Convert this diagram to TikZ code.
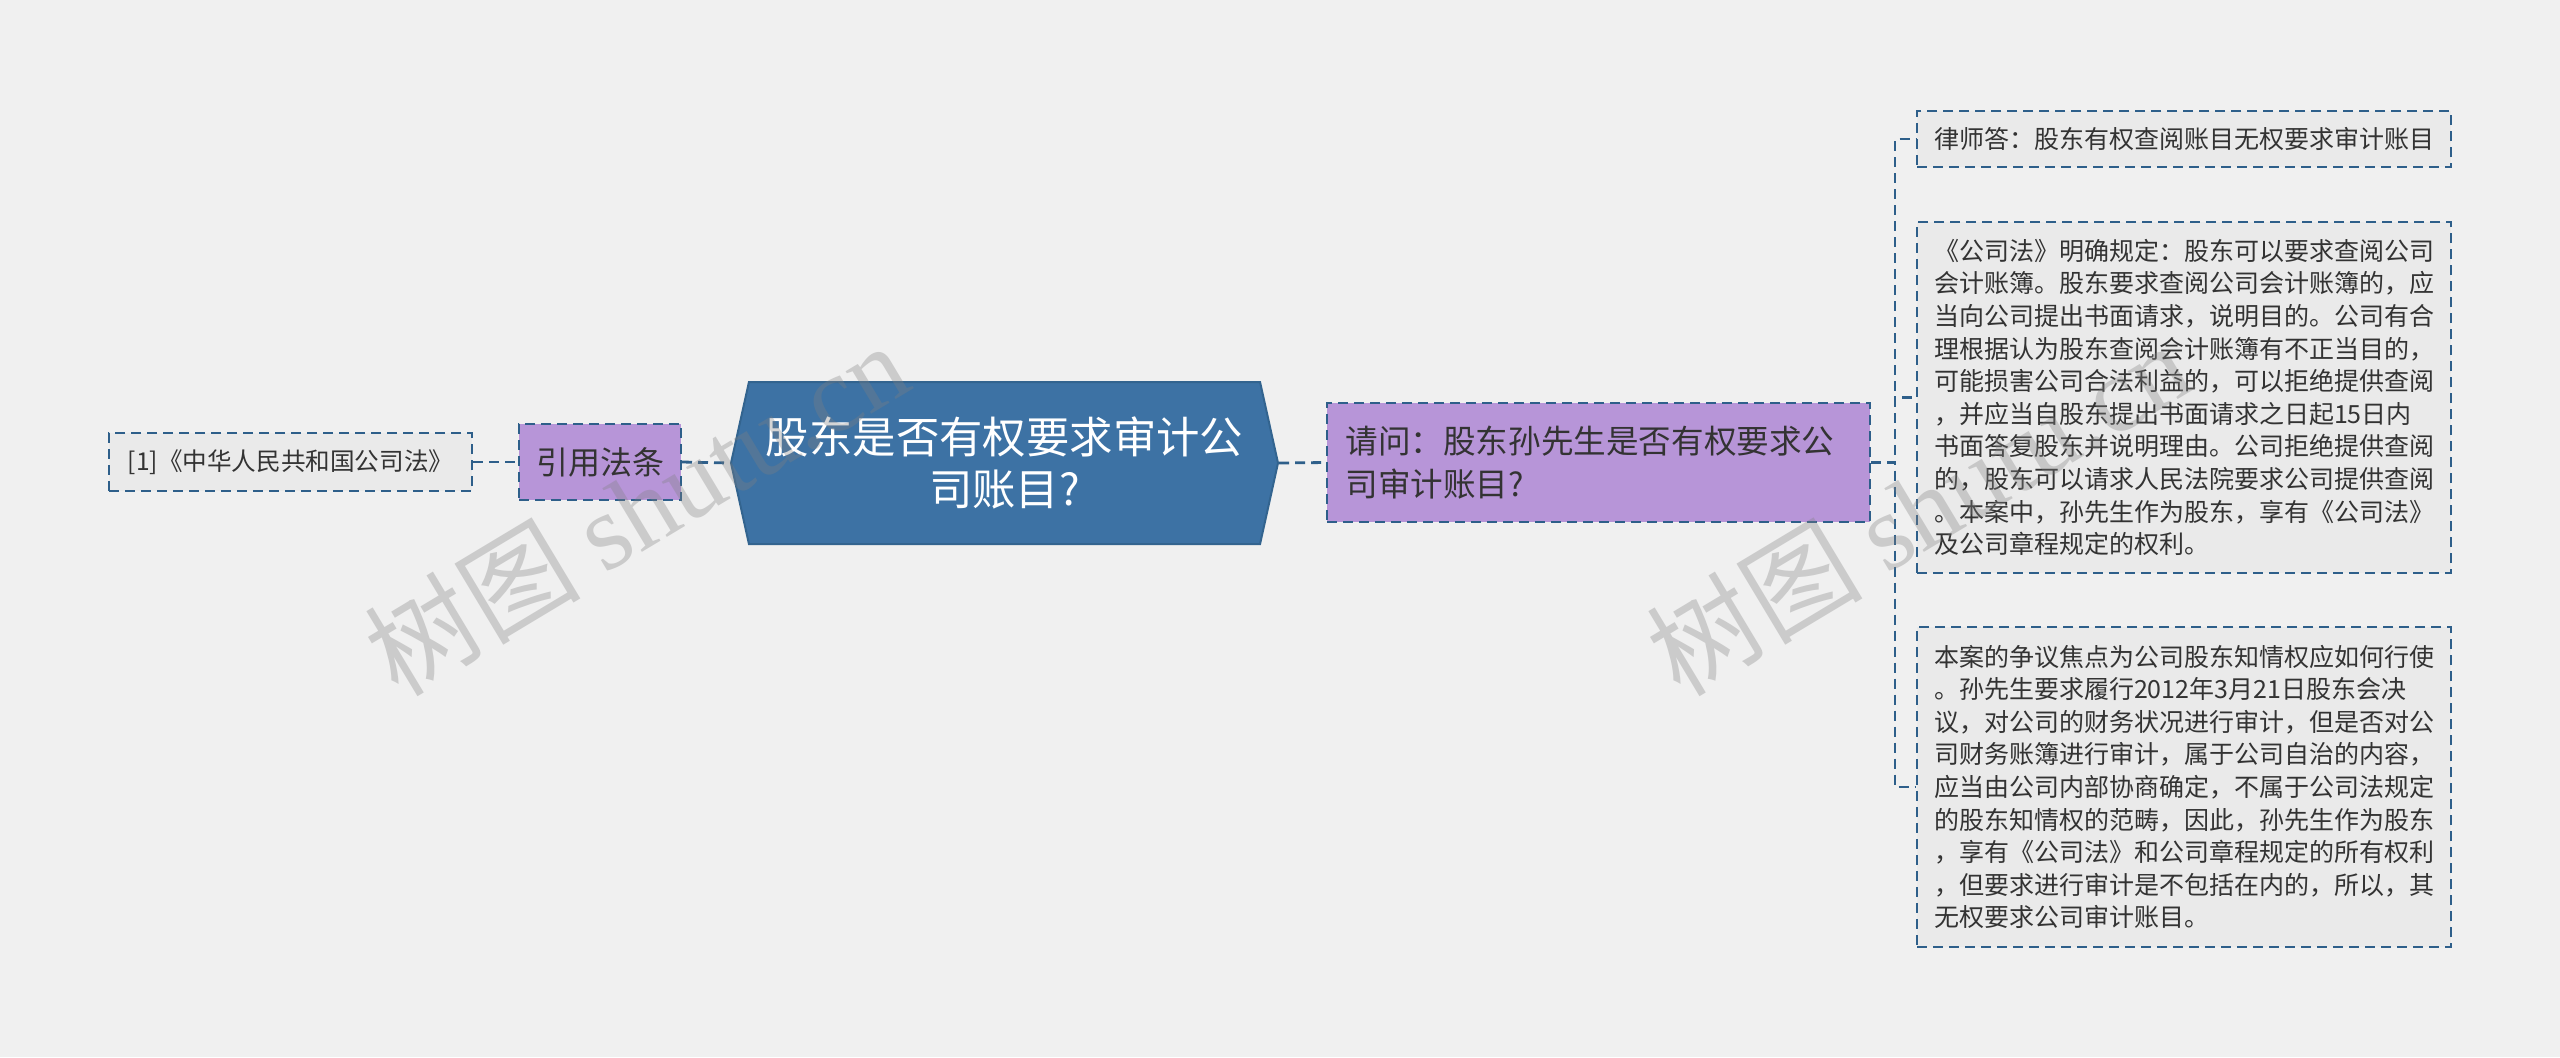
\documentclass[tikz,border=0pt]{standalone}
\usepackage{fontspec}
\setmainfont{Noto Sans CJK SC}
\newfontfamily\wmfont{Liberation Serif}
\usetikzlibrary{shapes.symbols}

\definecolor{bgcol}{HTML}{F0F0F0}
\definecolor{linecol}{HTML}{2E5F8A}
\definecolor{hexcol}{HTML}{3D72A4}
\definecolor{hexline}{HTML}{33648F}
\definecolor{purplecol}{HTML}{B795D8}
\definecolor{leafcol}{HTML}{EAEAEA}
\definecolor{textcol}{HTML}{333333}

\tikzset{
  link/.style={draw=linecol, line width=1.4pt, dash pattern=on 5pt off 3pt},
  leafbox/.style={draw=linecol, line width=1pt, dash pattern=on 5pt off 3pt,
    fill=leafcol, text=textcol, align=left, inner sep=0pt,
    font=\fontsize{12.5}{16.3}\selectfont},
  purplebox/.style={draw=linecol, line width=1pt, dash pattern=on 5pt off 3pt,
    fill=purplecol, text=textcol, inner sep=0pt},
  hexbox/.style={signal, signal to=west and east, signal pointer angle=155,
    fill=hexcol, draw=hexline, line width=1pt, text=white, align=center,
    inner sep=0pt, font=\fontsize{21.7}{26}\selectfont},
  wmark/.style={text=gray, opacity=0.33, rotate=31,
    font=\fontsize{54}{54}\selectfont}
}

\begin{document}
\begin{tikzpicture}[x=0.5pt, y=-0.5pt]
    \path[use as bounding box, fill=bgcol] (0,0) rectangle (2560,1057);

    % centre and the left branch
    \node[hexbox, minimum width=273.5pt, minimum height=81pt] (root) at (1004.5,463)
      {股东是否有权要求审计公\\司账目?};
    \node[purplebox, minimum width=81pt, minimum height=38pt,
      font=\fontsize{16}{20}\selectfont] (cite) at (600,462) {引用法条};
    \node[leafbox, minimum width=181.5pt, minimum height=29pt,
      font=\fontsize{12.3}{16}\selectfont] (law) at (290.5,462) {[1]《中华人民共和国公司法》};

    % right branch
    \node[purplebox, minimum width=271.5pt, minimum height=59.5pt, align=left,
      text width=253pt, font=\fontsize{16.3}{21.2}\selectfont] (ask) at (1598.5,462.5)
      {请问：股东孙先生是否有权要求公\\司审计账目?};
    \node[leafbox, minimum width=267pt, minimum height=28pt] (ans1) at (2184,139)
      {律师答：股东有权查阅账目无权要求审计账目};
    \node[leafbox, minimum width=267pt, minimum height=175.5pt] (ans2) at (2184,397.5)
      {《公司法》明确规定：股东可以要求查阅公司\\
       会计账簿。股东要求查阅公司会计账簿的，应\\
       当向公司提出书面请求，说明目的。公司有合\\
       理根据认为股东查阅会计账簿有不正当目的，\\
       可能损害公司合法利益的，可以拒绝提供查阅\\
       ，并应当自股东提出书面请求之日起15日内\\
       书面答复股东并说明理由。公司拒绝提供查阅\\
       的，股东可以请求人民法院要求公司提供查阅\\
       。本案中，孙先生作为股东，享有《公司法》\\
       及公司章程规定的权利。};
    \node[leafbox, minimum width=267pt, minimum height=160pt] (ans3) at (2184,787)
      {本案的争议焦点为公司股东知情权应如何行使\\
       。孙先生要求履行2012年3月21日股东会决\\
       议，对公司的财务状况进行审计，但是否对公\\
       司财务账簿进行审计，属于公司自治的内容，\\
       应当由公司内部协商确定，不属于公司法规定\\
       的股东知情权的范畴，因此，孙先生作为股东\\
       ，享有《公司法》和公司章程规定的所有权利\\
       ，但要求进行审计是不包括在内的，所以，其\\
       无权要求公司审计账目。};

    % connectors
    \draw[link] (law.east) -- (cite.west);
    \draw[link] (cite.east) -- (root.west);
    \draw[link] (root.east) -- (ask.west);
    \foreach \s in {ans1,ans2,ans3}
    {
      \draw[link] (ask.east) -- ++(24,0) |- (\s.west);
    }

    % watermarks
    \node[wmark] (wm1) at (636,508) {树图 {\wmfont shutu.cn}};
    \node[wmark] (wm2) at (1918,508) {树图 {\wmfont shutu.cn}};
\end{tikzpicture}
\end{document}
